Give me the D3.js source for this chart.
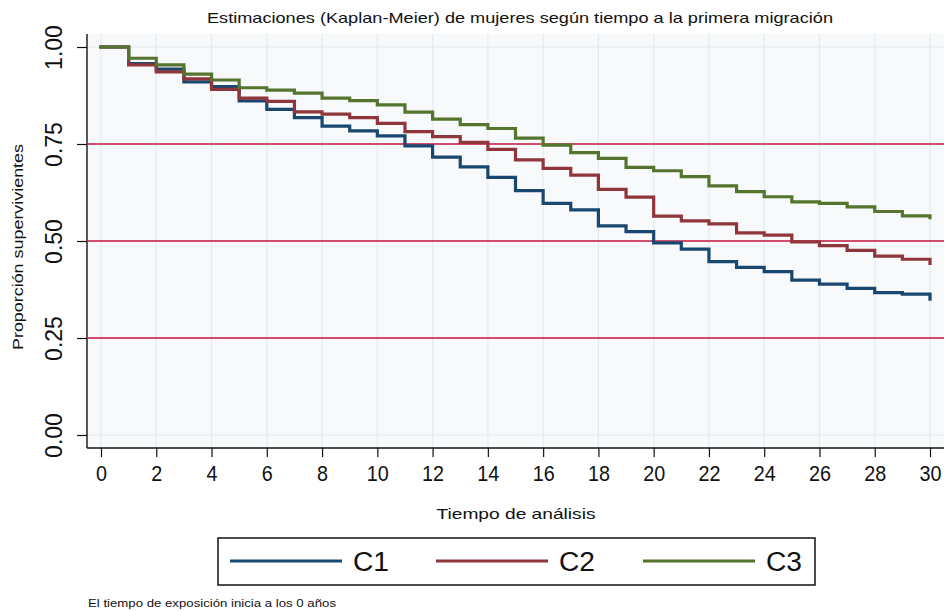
<!DOCTYPE html>
<html>
<head>
<meta charset="utf-8">
<script src="https://cdn.jsdelivr.net/npm/d3@7"></script>
<style>
  body { margin: 0; background: #ffffff; }
  svg { display: block; }
  text { font-family: "Liberation Sans", Arial, Helvetica, sans-serif; fill: #111; }
</style>
</head>
<body>
<svg id="chart" width="948" height="611"></svg>
<script>
// Kaplan-Meier survival estimates: value at index t holds for [t, t+1); the last entry is the level after the final step at t = 30.
const times = d3.range(0, 31);
const survC1 = [1.000, 0.957, 0.943, 0.910, 0.898, 0.861, 0.839, 0.818, 0.796, 0.784, 0.771,
                0.745, 0.716, 0.691, 0.664, 0.630, 0.597, 0.580, 0.539, 0.524, 0.495,
                0.479, 0.447, 0.432, 0.421, 0.399, 0.389, 0.378, 0.367, 0.363, 0.350];
const survC2 = [1.000, 0.954, 0.936, 0.918, 0.891, 0.868, 0.860, 0.833, 0.827, 0.818, 0.803,
                0.782, 0.769, 0.754, 0.736, 0.709, 0.687, 0.670, 0.633, 0.613, 0.564,
                0.552, 0.544, 0.521, 0.515, 0.498, 0.488, 0.476, 0.461, 0.453, 0.442];
const survC3 = [1.000, 0.971, 0.954, 0.930, 0.915, 0.895, 0.889, 0.881, 0.868, 0.862, 0.851,
                0.832, 0.814, 0.800, 0.790, 0.765, 0.747, 0.728, 0.713, 0.690, 0.681,
                0.666, 0.642, 0.627, 0.614, 0.601, 0.597, 0.588, 0.576, 0.565, 0.560];
const seriesNames = ["C1", "C2", "C3"];
const seriesValues = [survC1, survC2, survC3];
const seriesColors = ["#1a476f", "#90353b", "#55752f"];
const xTickValues = d3.range(0, 31, 2);
const yTickValues = [0, 0.25, 0.5, 0.75, 1];
const referenceLevels = [0.25, 0.5, 0.75];

const titleText = "Estimaciones (Kaplan-Meier) de mujeres según tiempo a la primera migración";
const yTitleText = "Proporción supervivientes";
const xTitleText = "Tiempo de análisis";
const noteText = "El tiempo de exposición inicia a los 0 años";

const svg = d3.select("#chart");
const region = { left: 88, right: 944, top: 34, bottom: 448 };

const x = d3.scaleLinear().domain([0, 30]).range([101, 930]);
const y = d3.scaleLinear().domain([0, 1]).range([435, 47]);

// plot region background
svg.append("rect")
  .attr("x", region.left).attr("y", region.top)
  .attr("width", region.right - region.left).attr("height", region.bottom - region.top)
  .attr("fill", "#f7f9fa");

// grid
svg.append("g").selectAll("line").data(xTickValues).join("line")
  .attr("x1", d => x(d)).attr("x2", d => x(d))
  .attr("y1", region.top).attr("y2", region.bottom)
  .attr("stroke", "#e3ecf0").attr("stroke-width", 1.2);
svg.append("g").selectAll("line").data(yTickValues).join("line")
  .attr("x1", region.left).attr("x2", region.right)
  .attr("y1", d => y(d)).attr("y2", d => y(d))
  .attr("stroke", "#e3ecf0").attr("stroke-width", 1.2);

// reference lines at the quartiles
svg.append("g").selectAll("line").data(referenceLevels).join("line")
  .attr("x1", region.left).attr("x2", region.right)
  .attr("y1", d => y(d)).attr("y2", d => y(d))
  .attr("stroke", "#c8163f").attr("stroke-width", 1.5);

// survival step curves
const line = d3.line()
  .x(d => x(d[0]))
  .y(d => y(d[1]))
  .curve(d3.curveStepAfter);

svg.append("g").selectAll("path")
  .data(seriesValues.map((vals, i) => ({ name: seriesNames[i], color: seriesColors[i], pts: times.map(t => [t, vals[t]]) })))
  .join("path")
  .attr("d", d => line(d.pts))
  .attr("fill", "none")
  .attr("stroke", d => d.color)
  .attr("stroke-width", 3.2)
  .attr("stroke-linejoin", "miter")
  .attr("stroke-linecap", "square");

// axes
const xAxis = svg.append("g")
  .attr("transform", `translate(0,${region.bottom})`)
  .call(d3.axisBottom(x).tickValues(xTickValues).tickSize(9).tickPadding(4).tickFormat(d3.format("d")));
xAxis.select(".domain").remove();
xAxis.selectAll(".tick line").attr("stroke", "#111").attr("stroke-width", 1.2);
xAxis.selectAll(".tick text")
  .attr("font-size", 22).attr("dy", "0.9em").attr("fill", "#111")
  .attr("textLength", d => d >= 10 ? 22 : 11)
  .attr("lengthAdjust", "spacingAndGlyphs");

const yAxis = svg.append("g")
  .attr("transform", `translate(${region.left - 1},0)`)
  .call(d3.axisLeft(y).tickValues(yTickValues).tickSize(10).tickFormat(d3.format(".2f")));
yAxis.select(".domain").remove();
yAxis.selectAll(".tick line").attr("stroke", "#111").attr("stroke-width", 1.2);
yAxis.selectAll(".tick text")
  .attr("transform", "rotate(-90)")
  .attr("x", 0).attr("y", -25).attr("dy", 0)
  .attr("text-anchor", "middle")
  .attr("font-size", 23).attr("fill", "#111");

// axis lines
svg.append("line")
  .attr("x1", region.left - 1).attr("x2", region.left - 1)
  .attr("y1", region.top).attr("y2", region.bottom)
  .attr("stroke", "#111").attr("stroke-width", 1.4);
svg.append("line")
  .attr("x1", region.left - 1).attr("x2", region.right)
  .attr("y1", region.bottom).attr("y2", region.bottom)
  .attr("stroke", "#111").attr("stroke-width", 1.4);

// titles
svg.append("text")
  .attr("x", 520).attr("y", 23).attr("text-anchor", "middle")
  .attr("font-size", 15).attr("textLength", 626).attr("lengthAdjust", "spacingAndGlyphs")
  .attr("fill", "#222")
  .text(titleText);

svg.append("text")
  .attr("transform", `translate(23,${(region.top + region.bottom) / 2 + 6}) rotate(-90)`)
  .attr("text-anchor", "middle")
  .attr("font-size", 15).attr("textLength", 206).attr("lengthAdjust", "spacingAndGlyphs")
  .text(yTitleText);

svg.append("text")
  .attr("x", 516).attr("y", 519).attr("text-anchor", "middle")
  .attr("font-size", 15).attr("textLength", 159).attr("lengthAdjust", "spacingAndGlyphs")
  .text(xTitleText);

// legend
const legend = svg.append("g");
legend.append("rect")
  .attr("x", 218).attr("y", 538).attr("width", 597).attr("height", 47)
  .attr("fill", "#ffffff").attr("stroke", "#111").attr("stroke-width", 1.5);
const legendLineX = [230, 436, 643];
const item = legend.selectAll("g.item").data(seriesNames).join("g").attr("class", "item");
item.append("line")
  .attr("x1", (d, i) => legendLineX[i]).attr("x2", (d, i) => legendLineX[i] + 112)
  .attr("y1", 561).attr("y2", 561)
  .attr("stroke", (d, i) => seriesColors[i]).attr("stroke-width", 3.2);
item.append("text")
  .attr("x", (d, i) => legendLineX[i] + 123).attr("y", 571)
  .attr("font-size", 27).attr("textLength", 36).attr("lengthAdjust", "spacingAndGlyphs")
  .text(d => d);

// footnote
svg.append("text")
  .attr("x", 88).attr("y", 607)
  .attr("font-size", 11).attr("textLength", 248).attr("lengthAdjust", "spacingAndGlyphs")
  .text(noteText);
</script>
</body>
</html>
